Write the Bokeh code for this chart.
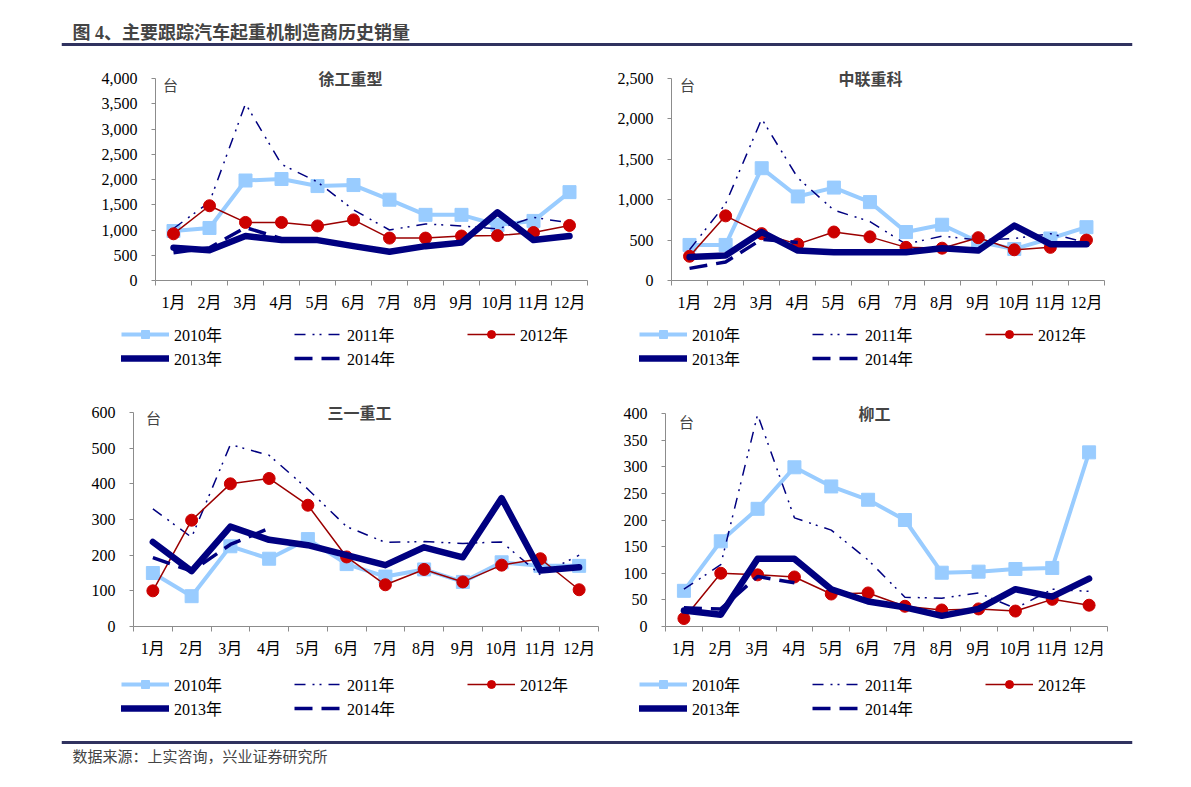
from bokeh.plotting import figure
from bokeh.layouts import column, row
from bokeh.models import (Legend, LegendItem, Label, FixedTicker, NumeralTickFormatter,
                          Range1d, Span)
from bokeh.embed import file_html
from bokeh.resources import INLINE

FONT = "Liberation Serif, Noto Sans CJK SC"
CJK = "Noto Sans CJK SC"

months = ["1月", "2月", "3月", "4月", "5月", "6月", "7月", "8月", "9月", "10月", "11月", "12月"]
month_idx = list(range(1, 13))
years = ["2010年", "2011年", "2012年", "2013年", "2014年"]

xcmg_2010 = [980, 1040, 1980, 2010, 1870, 1890, 1600, 1300, 1300, 1100, 1180, 1750]
xcmg_2011 = [1030, 1550, 3500, 2300, 1950, 1400, 1000, 1120, 1080, 1020, 1250, 1140]
xcmg_2012 = [925, 1480, 1150, 1150, 1080, 1200, 840, 840, 880, 890, 950, 1090]
xcmg_2013 = [650, 600, 880, 800, 800, 680, 570, 680, 750, 1350, 800, 880]
xcmg_2014 = [550, 650, 1050, 830]

zoomlion_2010 = [440, 440, 1390, 1040, 1150, 970, 600, 690, 480, 390, 520, 660]
zoomlion_2011 = [380, 950, 2000, 1270, 870, 730, 450, 550, 500, 520, 580, 470]
zoomlion_2012 = [300, 800, 580, 450, 600, 540, 410, 400, 530, 380, 410, 500]
zoomlion_2013 = [290, 310, 600, 370, 350, 350, 350, 400, 370, 680, 450, 450]
zoomlion_2014 = [150, 230, 510, 470]

sany_2010 = [150, 85, 225, 190, 245, 175, 140, 160, 125, 180, 170, 170]
sany_2011 = [330, 250, 510, 480, 385, 280, 236, 238, 233, 237, 145, 200]
sany_2012 = [100, 298, 400, 415, 340, 195, 117, 160, 125, 172, 190, 103]
sany_2013 = [237, 155, 280, 243, 228, 200, 172, 222, 194, 360, 157, 166]
sany_2014 = [193, 155, 230, 275]

liugong_2010 = [67, 160, 221, 299, 263, 238, 200, 101, 103, 108, 110, 327]
liugong_2011 = [70, 116, 398, 204, 181, 125, 55, 53, 63, 34, 70, 66]
liugong_2012 = [15, 100, 97, 93, 61, 63, 38, 31, 33, 29, 51, 40]
liugong_2013 = [30, 22, 127, 127, 70, 47, 36, 20, 33, 70, 56, 90]
liugong_2014 = [35, 33, 94, 82]

C10 = "#99CCFF"
NAVY = "#000080"
DARKRED = "#9B0000"
RED = "#CC0000"
AXIS = "#8C8C8C"
RULE = "#30325F"

STY10 = dict(line_color=C10, line_width=4)
MK10 = dict(marker="square", size=13, fill_color=C10, line_color=C10)
STY11 = dict(line_color=NAVY, line_width=1.5, line_dash="11 7 2 5 2 7")
STY12 = dict(line_color=DARKRED, line_width=1.5)
MK12 = dict(marker="circle", size=12, fill_color=RED, line_color=RED)
STY13 = dict(line_color=NAVY, line_width=6.5, line_join="round", line_cap="round")
STY14 = dict(line_color=NAVY, line_width=3.5, line_dash="18 9")

EXT = 13  # px of empty frame above the top tick
NAN = float("nan")


def unalign(f):
    try:
        f.frame_align = False
    except Exception:
        pass


def chart(name, series, ymax, ystep, width, height, bl, br, top, data_top, data_bot,
          title_pos, unit_pos, left_page):
    data_h = data_bot - data_top
    y_end = ymax * (data_h + EXT) / data_h
    bt = data_top - EXT - top
    bb = top + height - data_bot
    p = figure(width=width, height=height, x_range=Range1d(0.5, 12.5),
               y_range=Range1d(0, y_end), toolbar_location=None, output_backend="svg",
               min_border_left=bl, min_border_right=br, min_border_top=bt,
               min_border_bottom=bb)
    unalign(p)
    p.grid.visible = False
    p.outline_line_color = None
    s10, s11, s12, s13, s14 = series
    x14 = month_idx[:len(s14)]
    p.line(month_idx, s10, **STY10)
    p.scatter(month_idx, s10, **MK10)
    p.line(month_idx, s11, **STY11)
    p.line(month_idx, s12, **STY12)
    p.scatter(month_idx, s12, **MK12)
    p.line(month_idx, s13, **STY13)
    p.line(x14, s14, **STY14)

    xa = p.xaxis[0]
    xa.ticker = FixedTicker(ticks=month_idx, minor_ticks=[i + 0.5 for i in range(0, 13)])
    xa.major_label_overrides = {i: m for i, m in zip(month_idx, months)}
    xa.major_tick_out = 0
    xa.major_tick_in = 0
    xa.minor_tick_out = 5
    xa.minor_tick_in = 0
    xa.minor_tick_line_color = AXIS
    xa.axis_line_color = AXIS
    xa.major_label_standoff = 8
    xa.major_label_text_font = FONT
    xa.major_label_text_font_size = "16px"
    xa.major_label_text_color = "black"

    ya = p.yaxis[0]
    ya.ticker = FixedTicker(ticks=list(range(0, ymax + 1, ystep)))
    ya.formatter = NumeralTickFormatter(format="0,0")
    ya.bounds = (0, ymax)
    ya.major_tick_out = 4
    ya.major_tick_in = 0
    ya.minor_tick_line_color = None
    ya.major_tick_line_color = AXIS
    ya.axis_line_color = AXIS
    ya.major_label_standoff = 14
    ya.major_label_text_font = FONT
    ya.major_label_text_font_size = "16px"
    ya.major_label_text_color = "black"

    p.add_layout(Label(x=title_pos[0] - left_page, y=data_bot - title_pos[1],
                       x_units="screen", y_units="screen",
                       text=name, text_align="center", text_baseline="middle",
                       text_font=CJK, text_font_size="16px", text_font_style="bold"))
    p.add_layout(Label(x=unit_pos[0] - left_page, y=data_bot - unit_pos[1],
                       x_units="screen", y_units="screen",
                       text="台", text_align="center", text_baseline="middle",
                       text_font=CJK, text_font_size="15px"))
    return p


def legend_fig(width, height, lx, ltop):
    f = figure(width=width, height=height, x_range=Range1d(0, 1), y_range=Range1d(0, 1),
               toolbar_location=None, output_backend="svg", min_border=0)
    unalign(f)
    f.axis.visible = False
    f.grid.visible = False
    f.outline_line_color = None
    # legend samples only (no visible data points)
    r10 = f.line([0], [NAN], **STY10)
    m10 = f.scatter([0], [NAN], **MK10)
    r11 = f.line([0], [NAN], **STY11)
    r12 = f.line([0], [NAN], **STY12)
    m12 = f.scatter([0], [NAN], **MK12)
    r13 = f.line([0], [NAN], **STY13)
    r14 = f.line([0], [NAN], **STY14)
    items = [LegendItem(label=years[0], renderers=[r10, m10]),
             LegendItem(label=years[1], renderers=[r11]),
             LegendItem(label=years[2], renderers=[r12, m12]),
             LegendItem(label=years[3], renderers=[r13]),
             LegendItem(label=years[4], renderers=[r14])]
    lh = 43
    lg = Legend(items=items, location=(lx, height - ltop - lh), orientation="horizontal",
                ncols=3, glyph_width=48, glyph_height=20, label_height=20, label_standoff=5,
                label_width=120, spacing=0, padding=0, margin=0,
                border_line_color=None, background_fill_alpha=0,
                label_text_font=FONT, label_text_font_size="16px",
                label_text_color="black")
    f.add_layout(lg)
    return f


# page origin of the layout is (1, 1)
p1 = chart("徐工重型", [xcmg_2010, xcmg_2011, xcmg_2012, xcmg_2013, xcmg_2014],
           4000, 500, 599, 268, 155, 12, 50, 79, 281, (351, 78), (171, 85), 156)
p2 = chart("中联重科", [zoomlion_2010, zoomlion_2011, zoomlion_2012, zoomlion_2013, zoomlion_2014],
           2500, 500, 583, 268, 72, 78, 50, 79, 281, (871, 78), (688, 85), 672)
l1 = legend_fig(599, 67, 121, 10)
l2 = legend_fig(583, 67, 40, 10)
p3 = chart("三一重工", [sany_2010, sany_2011, sany_2012, sany_2013, sany_2014],
           600, 100, 599, 279, 133, 1, 385, 413, 627, (360, 412), (154, 418), 134)
p4 = chart("柳工", [liugong_2010, liugong_2011, liugong_2012, liugong_2013, liugong_2014],
           400, 50, 583, 279, 66, 75, 385, 414, 627, (875, 413), (687, 422), 666)
l3 = legend_fig(599, 71, 121, 14)
l4 = legend_fig(583, 71, 40, 14)


def band(height, text, ty, ly, size, bold):
    f = figure(width=1182, height=height, x_range=Range1d(0, 1), y_range=Range1d(0, height),
               toolbar_location=None, output_backend="svg", min_border_left=61,
               min_border_right=50, min_border_top=0, min_border_bottom=0)
    unalign(f)
    f.axis.visible = False
    f.grid.visible = False
    f.outline_line_color = None
    f.add_layout(Span(location=ly, dimension="width", line_color=RULE, line_width=3))
    f.add_layout(Label(x=11, y=ty, x_units="screen", y_units="screen", text=text,
                       text_align="left", text_baseline="middle",
                       text_font=FONT, text_font_size=size,
                       text_font_style="bold" if bold else "normal"))
    return f


header = band(49, "图 4、主要跟踪汽车起重机制造商历史销量", 17, 5, "18px", True)
footer = band(44, "数据来源：上实咨询，兴业证券研究所", 22, 36, "15px", False)

layout = column(header,
                row(column(p1, l1, spacing=0), column(p2, l2, spacing=0), spacing=0),
                row(column(p3, l3, spacing=0), column(p4, l4, spacing=0), spacing=0),
                footer, spacing=0)
open("out.html", "w").write(file_html(layout, INLINE))
